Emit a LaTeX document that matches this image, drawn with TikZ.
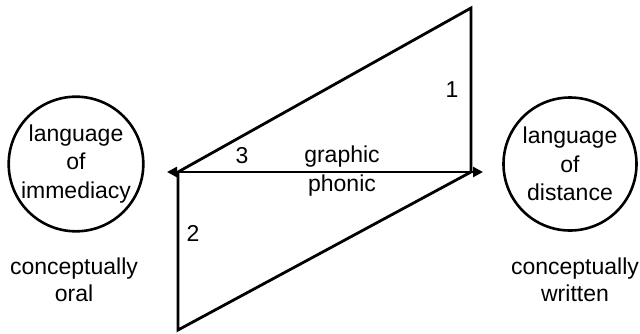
\documentclass[tikz,border=0pt]{standalone}
\usepackage{fontspec}
\setmainfont{Liberation Sans}
\usetikzlibrary{arrows.meta}
\begin{document}
\begin{tikzpicture}[x=1pt,y=-1pt,
  lbl/.style={font=\fontsize{23}{27}\selectfont, inner sep=0pt, align=center},
  circ/.style={draw, circle, line width=2.6pt, minimum size=133pt, inner sep=0pt, font=\fontsize{23}{28.5}\selectfont, align=center},
  edge/.style={line width=2.8pt, line join=miter}]
\useasboundingbox (0,0) rectangle (640,333);
\node[circ] (left) at (76,164) {language\\of\\immediacy};
\node[circ] (right) at (570,164) {language\\of\\distance};
\coordinate (tr) at (471,8);
\coordinate (ml) at (178,172);
\coordinate (mr) at (471,172);
\coordinate (bl) at (178,330);
\coordinate (al) at (167,172);
\coordinate (ar) at (483,172);
\draw[edge] (ml) -- (tr) -- (mr);
\draw[edge] (ml) -- (bl) -- (mr);
\draw[edge, {Triangle[length=10pt,width=10pt]}-{Triangle[length=10pt,width=10pt]}] (al) -- (ar);
\node[lbl] (n1) at (452,90) {1};
\node[lbl] (n3) at (242,156) {3};
\node[lbl] (n2) at (193,233) {2};
\node[lbl] (gr) at (342,157) {graphic};
\node[lbl] (ph) at (342,186) {phonic};
\node[lbl] (co) at (74,280) {conceptually\\oral};
\node[lbl] (cw) at (575,280) {conceptually\\written};
\end{tikzpicture}
\end{document}
